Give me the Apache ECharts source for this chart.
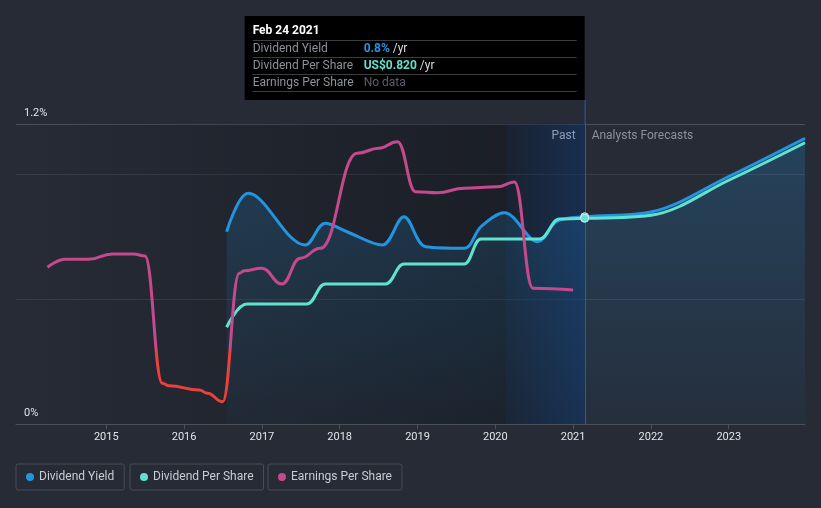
<!DOCTYPE html>
<html>
<head>
<meta charset="utf-8">
<script src="https://cdn.jsdelivr.net/npm/echarts@6/dist/echarts.min.js"></script>
<style>
html,body{margin:0;padding:0;background:#262b36;}
#c{width:821px;height:508px;}
</style>
</head>
<body>
<div id="c"></div>
<script>
// ---- data (x = decimal year) ----
const xMin = 2013.84, xMax = 2023.98;
const yearTicks = [2015, 2016, 2017, 2018, 2019, 2020, 2021, 2022, 2023];
const yTickLabels = { 0: '0%', 1.2: '1.2%' };
const nowX = 2021.148;
const pastBandStart = 2020.14;

const dividendYield = [
  [2016.547, 0.769], [2016.826, 0.923], [2017.557, 0.716],
  [2017.815, 0.803], [2018.095, 0.769], [2018.547, 0.716],
  [2018.826, 0.829], [2019.106, 0.709], [2019.6, 0.703], [2019.815, 0.789],
  [2020.116, 0.845], [2020.547, 0.729], [2020.79, 0.81], [2021.148, 0.829],
  [2022.0, 0.848], [2023.0, 0.99], [2023.98, 1.143]
];
const dividendPerShare = [
  [2016.547, 0.387], [2016.805, 0.48], [2017.579, 0.48],
  [2017.815, 0.56], [2018.59, 0.56], [2018.826, 0.64], [2019.6, 0.64],
  [2019.815, 0.74], [2020.568, 0.74], [2020.826, 0.82], [2021.148, 0.823],
  [2022.0, 0.835], [2023.0, 0.975], [2023.98, 1.125]
];
const earningsPerShare = [
  [2014.245, 0.627], [2014.474, 0.659], [2014.774, 0.659], [2015.076, 0.68],
  [2015.355, 0.68], [2015.497, 0.672], [2015.721, 0.163], [2015.806, 0.153],
  [2016.194, 0.136], [2016.302, 0.123], [2016.495, 0.089], [2016.71, 0.603],
  [2016.774, 0.613], [2016.999, 0.623], [2017.257, 0.56], [2017.493, 0.663],
  [2017.751, 0.703], [2018.225, 1.083], [2018.503, 1.103], [2018.741, 1.129],
  [2018.977, 0.929], [2019.257, 0.925], [2019.6, 0.943], [2020.031, 0.949],
  [2020.245, 0.968], [2020.483, 0.543], [2020.999, 0.536]
];
const epsLowThreshold = 0.296;

const tooltipDate = 'Feb 24 2021';
const tooltipRows = [
  { label: 'Dividend Yield', value: '0.8%', color: '#2394df', unit: ' /yr' },
  { label: 'Dividend Per Share', value: 'US$0.820', color: '#5fe3d0', unit: ' /yr' },
  { label: 'Earnings Per Share', value: 'No data', color: '#5a5f68', unit: '' }
];

const C_BLUE = '#2394df', C_TEAL = '#5fe3d0', C_PINK = '#c5498c', C_RED = '#e8423a';
const FONT = 'Roboto, "Noto Sans", sans-serif';

const chart = echarts.init(document.getElementById('c'), null, { renderer: 'canvas' });

function nowValue(arr) {
  const p = arr.find(d => d[0] === nowX);
  return p ? p[1] : null;
}
const dpsPast = dividendPerShare.filter(d => d[0] <= nowX);
const dpsFuture = dividendPerShare.filter(d => d[0] >= nowX);

const legendBase = {
  top: 464, icon: 'circle', itemWidth: 8, itemHeight: 8, itemGap: 6,
  borderColor: '#474c57', borderWidth: 1, borderRadius: 2,
  padding: [7, 10, 7, 10],
  textStyle: { color: '#c9ccd2', fontSize: 12, fontFamily: FONT },
  selectedMode: false
};

const option = {
  animation: false,
  backgroundColor: '#262b36',
  grid: { left: 16, right: 16, top: 124, bottom: 84 },
  legend: [
    Object.assign({}, legendBase, { left: 16, data: ['Dividend Yield'] }),
    Object.assign({}, legendBase, { left: 130, data: ['Dividend Per Share'] }),
    Object.assign({}, legendBase, { left: 268, data: ['Earnings Per Share'] })
  ],
  xAxis: {
    type: 'value', min: xMin, max: xMax,
    axisLine: { lineStyle: { color: '#4a4f5a', width: 1 } },
    axisTick: { show: true, customValues: yearTicks, length: 5, lineStyle: { color: '#4a4f5a' } },
    axisLabel: {
      customValues: yearTicks, color: '#e2e4e8', fontSize: 11, fontFamily: FONT, margin: 8,
      formatter: v => String(Math.round(v))
    },
    splitLine: { show: false }
  },
  yAxis: {
    type: 'value', min: 0, max: 1.2, interval: 0.5,
    axisLine: { show: false }, axisTick: { show: false },
    axisLabel: {
      inside: true, verticalAlign: 'bottom', margin: 8, padding: [0, 0, 5, 0],
      color: '#e2e4e8', fontSize: 11, fontFamily: FONT,
      formatter: v => (yTickLabels[Math.round(v * 10) / 10] || '')
    },
    splitLine: { lineStyle: { color: ['#4a4f5a', '#393e49', '#393e49', '#4a4f5a'], width: 1 } }
  },
  series: [
    {
      id: 'bg', name: 'bg', type: 'line', data: [], silent: true, z: 0,
      markArea: {
        silent: true,
        data: [
          [{ xAxis: xMin, itemStyle: { color: new echarts.graphic.LinearGradient(0, 0, 1, 0, [
              { offset: 0, color: 'rgba(0,0,0,0)' }, { offset: 1, color: 'rgba(0,0,0,0.3)' }]) } },
           { xAxis: pastBandStart }],
          [{ xAxis: pastBandStart, itemStyle: { color: 'rgba(0,0,0,0.3)' } }, { xAxis: nowX }],
          [{ xAxis: pastBandStart, itemStyle: { color: new echarts.graphic.LinearGradient(0, 0, 1, 0, [
              { offset: 0, color: 'rgba(20,80,170,0.08)' }, { offset: 1, color: 'rgba(20,80,170,0.32)' }]) } },
           { xAxis: nowX }]
        ]
      },
      markLine: {
        silent: true, symbol: 'none', label: { show: false },
        lineStyle: { color: '#1f5fbf', width: 1, type: 'solid' },
        data: [{ xAxis: nowX }]
      }
    },
    {
      id: 'dy', name: 'Dividend Yield', type: 'line', data: dividendYield, z: 2,
      smooth: 0.35, showSymbol: false, symbol: 'circle',
      itemStyle: { color: C_BLUE },
      lineStyle: { color: C_BLUE, width: 3 },
      areaStyle: { color: new echarts.graphic.LinearGradient(0, 0, 0, 1, [
        { offset: 0, color: 'rgba(35,148,223,0.32)' }, { offset: 1, color: 'rgba(35,148,223,0.05)' }]) },
      markPoint: {
        silent: true, symbol: 'circle', symbolSize: 8, label: { show: false },
        itemStyle: { color: C_BLUE, borderColor: '#e8eef5', borderWidth: 1 },
        data: [{ coord: [nowX, nowValue(dividendYield)] }]
      }
    },
    {
      id: 'dps', name: 'Dividend Per Share', type: 'line', data: dpsPast, z: 3,
      smooth: 0.45, smoothMonotone: 'x', showSymbol: false, symbol: 'circle',
      itemStyle: { color: C_TEAL },
      lineStyle: { color: C_TEAL, width: 3 },
      markPoint: {
        silent: true, symbol: 'circle', symbolSize: 8, label: { show: false },
        itemStyle: { color: C_TEAL, borderColor: '#e8eef5', borderWidth: 1 },
        data: [{ coord: [nowX, nowValue(dividendPerShare)] }]
      }
    },
    {
      id: 'dpsF', name: 'Dividend Per Share', type: 'line', data: dpsFuture, z: 3,
      smooth: 0.35, showSymbol: false, symbol: 'circle',
      itemStyle: { color: C_TEAL },
      lineStyle: { color: C_TEAL, width: 3 }
    },
    {
      id: 'eps', name: 'Earnings Per Share', type: 'line', data: earningsPerShare, z: 4,
      smooth: 0.45, smoothMonotone: 'x', showSymbol: false, symbol: 'circle',
      itemStyle: { color: C_PINK },
      lineStyle: { color: C_PINK, width: 3 }
    }
  ]
};

chart.setOption(option);

// EPS: red below the low threshold, via a global vertical gradient from the y scale
const yTop = chart.convertToPixel({ yAxisIndex: 0 }, 1.2);
const yBot = chart.convertToPixel({ yAxisIndex: 0 }, 0);
const yThr = chart.convertToPixel({ yAxisIndex: 0 }, epsLowThreshold);
const t = (yThr - yTop) / (yBot - yTop);
chart.setOption({ series: [{ id: 'eps', lineStyle: { color: new echarts.graphic.LinearGradient(0, yTop, 0, yBot, [
  { offset: 0, color: C_PINK }, { offset: t, color: C_PINK }, { offset: t, color: C_RED }, { offset: 1, color: C_RED }], true) } }] });

// overlay: tooltip box, labels, positioned from the axis scale
const px = chart.convertToPixel({ xAxisIndex: 0 }, nowX);
const boxW = 340, boxTop = 16, boxH = 84;
const boxL = px - boxW;
const g = [];
g.push({ type: 'rect', shape: { x: boxL, y: boxTop, width: boxW, height: boxH }, style: { fill: '#000' }, silent: true });
g.push({ type: 'line', shape: { x1: px + 0.5, y1: boxTop + boxH, x2: px + 0.5, y2: yTop }, style: { stroke: '#1f5fbf', lineWidth: 1 }, silent: true });
g.push({ type: 'text', x: boxL + 8, y: boxTop + 15, style: { text: tooltipDate, fill: '#ffffff', font: 'bold 12px ' + FONT, verticalAlign: 'middle' }, silent: true });
const sepYs = [boxTop + 24.5, boxTop + 41.5, boxTop + 58.5, boxTop + 75.5];
sepYs.forEach(y => g.push({ type: 'line', shape: { x1: boxL + 8, y1: y, x2: px - 8, y2: y }, style: { stroke: '#3b3d42', lineWidth: 1 }, silent: true }));
tooltipRows.forEach((r, i) => {
  const y = boxTop + 33 + i * 17;
  g.push({ type: 'text', x: boxL + 8, y: y, style: { text: r.label, fill: '#8d9199', font: '12px ' + FONT, verticalAlign: 'middle' }, silent: true });
  g.push({ type: 'text', x: boxL + 119, y: y, style: {
    text: '{v|' + r.value + '}{u|' + r.unit + '}', verticalAlign: 'middle', font: '12px ' + FONT,
    rich: {
      v: { fill: r.color, font: (r.unit ? 'bold ' : '') + '12px ' + FONT },
      u: { fill: '#d8dbe0', font: '12px ' + FONT }
    } }, silent: true });
});
g.push({ type: 'text', x: px - 9, y: yTop + 12, style: { text: 'Past', fill: '#ffffff', font: '12px ' + FONT, align: 'right', verticalAlign: 'middle' }, silent: true });
g.push({ type: 'text', x: px + 7, y: yTop + 12, style: { text: 'Analysts Forecasts', fill: '#8d9199', font: '12px ' + FONT, align: 'left', verticalAlign: 'middle' }, silent: true });
chart.setOption({ graphic: { elements: g } });
</script>
</body>
</html>
